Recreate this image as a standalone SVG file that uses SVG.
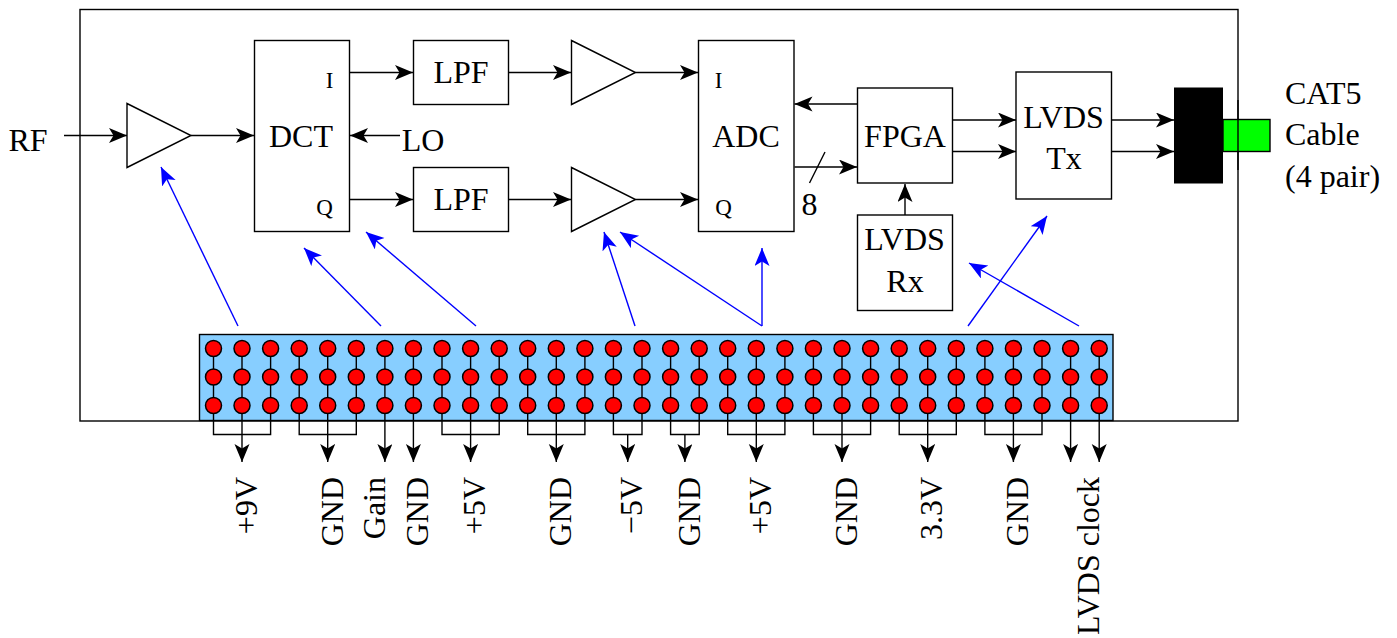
<svg xmlns="http://www.w3.org/2000/svg" xmlns:xlink="http://www.w3.org/1999/xlink" width="1397" height="638" viewBox="0 0 1397 638">
<style>
text{font-family:"Liberation Serif","Times New Roman",serif;font-size:32px;fill:#000;text-anchor:middle}
.s{font-size:23px}
.l{text-anchor:start}
.v{text-anchor:end}
.b{fill:#fff;stroke:#000;stroke-width:1.4}
.c{fill:none;stroke:#000;stroke-width:1.4}
.a{marker-end:url(#k)}
.u{fill:none;stroke:#00f;stroke-width:1.4;marker-end:url(#n)}
.p{fill:#f00;stroke:#000;stroke-width:1.5}
.w{fill:none;stroke:#000;stroke-width:1.4}
</style>
<defs>
<marker id="k" markerUnits="userSpaceOnUse" markerWidth="20" markerHeight="18" refX="18" refY="7.500" orient="auto"><path d="M0,0 L18,7.500 L0,15 L4.500,7.500Z" fill="#000"/></marker>
<marker id="n" markerUnits="userSpaceOnUse" markerWidth="20" markerHeight="18" refX="18" refY="7.500" orient="auto"><path d="M0,0 L18,7.500 L0,15 L4.500,7.500Z" fill="#00f"/></marker>
<g id="pin"><path class="w" d="M0,0V57"/><circle class="p" cy="0" r="8"/><circle class="p" cy="28.500" r="8"/><circle class="p" cy="57" r="8"/></g>
</defs>
<rect id="frame" x="80" y="9.500" width="1158" height="411.500" fill="none" stroke="#000" stroke-width="1.4"/>
<g id="cable"><rect x="1223" y="119.500" width="47" height="32" fill="#0f0" stroke="#000" stroke-width="1.4"/><path d="M1238,100V170" stroke="#000" stroke-width="1.4"/></g>
<g id="connector"><rect x="1174" y="87.500" width="49" height="96" fill="#000"/></g>
<g id="amp1"><path class="b" d="M127,103.500L191,135.500L127,167.500Z"/></g>
<g id="dct"><rect class="b" x="254.500" y="40.500" width="95" height="191"/><text class="s" x="329.500" y="87.500">I</text><text x="301" y="147">DCT</text><text class="s" x="324.500" y="214.500">Q</text></g>
<g id="lpf1"><rect class="b" x="413.500" y="40.500" width="95" height="64"/><text x="461" y="83">LPF</text></g>
<g id="lpf2"><rect class="b" x="413.500" y="167.500" width="95" height="64"/><text x="461" y="210">LPF</text></g>
<g id="amp2"><path class="b" d="M571.500,40.500L635.500,72.500L571.500,104.500Z"/></g>
<g id="amp3"><path class="b" d="M571.500,167.500L635.500,199.500L571.500,231.500Z"/></g>
<g id="adc"><rect class="b" x="698.500" y="40.500" width="95.500" height="191"/><text class="s" x="718.500" y="87.500">I</text><text x="746" y="147">ADC</text><text class="s" x="723.500" y="214.500">Q</text></g>
<g id="fpga"><rect class="b" x="857.500" y="88" width="95" height="95"/><text x="905" y="147">FPGA</text></g>
<g id="lvdstx"><rect class="b" x="1016" y="72" width="95.500" height="127"/><text x="1063.500" y="128">LVDS</text><text x="1064" y="169">Tx</text></g>
<g id="lvdsrx"><rect class="b" x="857.500" y="215" width="95" height="95.500"/><text x="904.500" y="250">LVDS</text><text x="905" y="292">Rx</text></g>
<g id="header">
<rect x="199.500" y="334.500" width="913.500" height="86" fill="#87ceff" stroke="#000" stroke-width="1.4"/>
<use xlink:href="#pin" href="#pin" x="213.500" y="348.500"/><use xlink:href="#pin" href="#pin" x="242" y="348.500"/><use xlink:href="#pin" href="#pin" x="270.600" y="348.500"/><use xlink:href="#pin" href="#pin" x="299.200" y="348.500"/><use xlink:href="#pin" href="#pin" x="327.700" y="348.500"/><use xlink:href="#pin" href="#pin" x="356.300" y="348.500"/><use xlink:href="#pin" href="#pin" x="384.900" y="348.500"/><use xlink:href="#pin" href="#pin" x="413.400" y="348.500"/><use xlink:href="#pin" href="#pin" x="442" y="348.500"/><use xlink:href="#pin" href="#pin" x="470.600" y="348.500"/><use xlink:href="#pin" href="#pin" x="499.200" y="348.500"/><use xlink:href="#pin" href="#pin" x="527.700" y="348.500"/><use xlink:href="#pin" href="#pin" x="556.300" y="348.500"/><use xlink:href="#pin" href="#pin" x="584.900" y="348.500"/><use xlink:href="#pin" href="#pin" x="613.400" y="348.500"/><use xlink:href="#pin" href="#pin" x="642" y="348.500"/><use xlink:href="#pin" href="#pin" x="670.600" y="348.500"/><use xlink:href="#pin" href="#pin" x="699.200" y="348.500"/><use xlink:href="#pin" href="#pin" x="727.700" y="348.500"/><use xlink:href="#pin" href="#pin" x="756.300" y="348.500"/><use xlink:href="#pin" href="#pin" x="784.900" y="348.500"/><use xlink:href="#pin" href="#pin" x="813.400" y="348.500"/><use xlink:href="#pin" href="#pin" x="842" y="348.500"/><use xlink:href="#pin" href="#pin" x="870.600" y="348.500"/><use xlink:href="#pin" href="#pin" x="899.200" y="348.500"/><use xlink:href="#pin" href="#pin" x="927.700" y="348.500"/><use xlink:href="#pin" href="#pin" x="956.300" y="348.500"/><use xlink:href="#pin" href="#pin" x="984.900" y="348.500"/><use xlink:href="#pin" href="#pin" x="1013.400" y="348.500"/><use xlink:href="#pin" href="#pin" x="1042" y="348.500"/><use xlink:href="#pin" href="#pin" x="1070.600" y="348.500"/><use xlink:href="#pin" href="#pin" x="1099.200" y="348.500"/>
</g>
<g id="connectors">
<path class="c a" d="M64,135.500H127"/>
<path class="c a" d="M191,135.500H254"/>
<path class="c a" d="M400,135.500H350"/>
<path class="c a" d="M350,72.500H413"/>
<path class="c a" d="M350,199.500H413"/>
<path class="c a" d="M508.500,72.500H571"/>
<path class="c a" d="M508.500,199.500H571"/>
<path class="c a" d="M635.500,72.500H698"/>
<path class="c a" d="M635.500,199.500H698"/>
<path class="c a" d="M857,104H794.500"/>
<path class="c a" d="M794.500,167H857"/>
<path class="c" d="M809.500,183L825,152"/>
<path class="c a" d="M952.500,120H1016"/>
<path class="c a" d="M952.500,151.500H1016"/>
<path class="c a" d="M1111.500,120H1174"/>
<path class="c a" d="M1111.500,151.500H1174"/>
<path class="c a" d="M905,215V184"/>
<path class="u" d="M238,326L161,167"/>
<path class="u" d="M381,326L304,248"/>
<path class="u" d="M476,326L366,232"/>
<path class="u" d="M635,326L604,232"/>
<path class="u" d="M762,326L620,232"/>
<path class="u" d="M762,326V248"/>
<path class="u" d="M968,326L1047,216"/>
<path class="u" d="M1079,326L969,263"/>
<path class="c" d="M213.500,413V434.500H270.600V413"/>
<path class="c" d="M299.200,413V434.500H356.300V413"/>
<path class="c" d="M442,413V434.500H499.200V413"/>
<path class="c" d="M527.700,413V434.500H584.900V413"/>
<path class="c" d="M613.400,413V434.500H642V413"/>
<path class="c" d="M670.600,413V434.500H699.200V413"/>
<path class="c" d="M727.700,413V434.500H784.900V413"/>
<path class="c" d="M813.400,413V434.500H870.600V413"/>
<path class="c" d="M899.200,413V434.500H956.300V413"/>
<path class="c" d="M984.900,413V434.500H1042V413"/>
<path class="c a" d="M242,413V462"/>
<path class="c a" d="M327.700,413V462"/>
<path class="c a" d="M384.900,413V462"/>
<path class="c a" d="M413.400,413V462"/>
<path class="c a" d="M470.600,413V462"/>
<path class="c a" d="M556.300,413V462"/>
<path class="c a" d="M627.700,434.500V462"/>
<path class="c a" d="M684.900,434.500V462"/>
<path class="c a" d="M756.300,413V462"/>
<path class="c a" d="M842,413V462"/>
<path class="c a" d="M927.700,413V462"/>
<path class="c a" d="M1013.400,413V462"/>
<path class="c a" d="M1070.600,413V462"/>
<path class="c a" d="M1099.200,413V462"/>
</g>
<g id="labels">
<text x="28" y="151">RF</text>
<text x="423" y="151">LO</text>
<text x="809.500" y="215">8</text>
<text class="l" x="1285" y="104">CAT5</text>
<text class="l" x="1285" y="145">Cable</text>
<text class="l" x="1285" y="187">(4 pair)</text>
<text class="v" transform="translate(257,477) rotate(-90)">+9V</text>
<text class="v" transform="translate(343,477) rotate(-90)">GND</text>
<text class="v" transform="translate(385,477) rotate(-90)">Gain</text>
<text class="v" transform="translate(428,477) rotate(-90)">GND</text>
<text class="v" transform="translate(485,477) rotate(-90)">+5V</text>
<text class="v" transform="translate(571,477) rotate(-90)">GND</text>
<text class="v" transform="translate(642,477) rotate(-90)">−5V</text>
<text class="v" transform="translate(700,477) rotate(-90)">GND</text>
<text class="v" transform="translate(771,477) rotate(-90)">+5V</text>
<text class="v" transform="translate(857,477) rotate(-90)">GND</text>
<text class="v" transform="translate(942,477) rotate(-90)">3.3V</text>
<text class="v" transform="translate(1028,477) rotate(-90)">GND</text>
<text class="v" transform="translate(1099,477) rotate(-90)">LVDS clock</text>
</g>
</svg>
